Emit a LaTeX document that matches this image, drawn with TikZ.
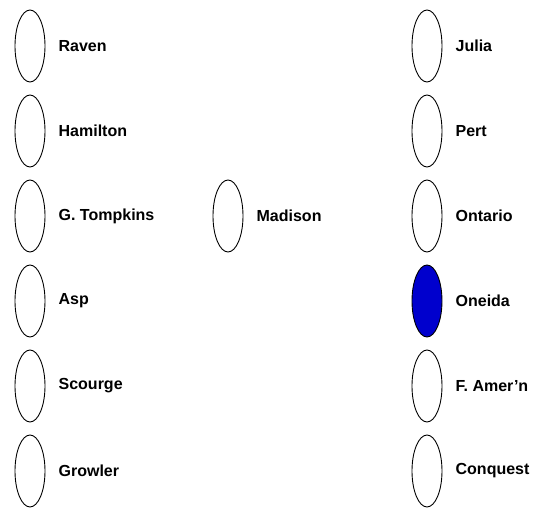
\documentclass[tikz,border=0pt]{standalone}
\usepackage{fontspec}
\setmainfont{Liberation Sans}
\usepackage{xcolor}
\usetikzlibrary{positioning, shapes.geometric}

\definecolor{shipblue}{RGB}{0,0,205}

\begin{document}
\begin{tikzpicture}[
    x=1pt, y=-1pt,
    ship/.style={draw, ellipse, minimum width=30pt, minimum height=72pt,
      inner sep=0pt, line width=0.9pt},
    lbl/.style={font=\fontsize{16}{18}\selectfont\bfseries, inner sep=0pt},
  ]
    \useasboundingbox (0,0) rectangle (542,508);

    % ═══ Left column ═══
    \node[ship] (raven) at (30, 46) {};
    \node[lbl, right=13pt of raven] (ravenl) {Raven};
    \node[ship] (hamilton) at (30, 131) {};
    \node[lbl, right=13pt of hamilton] (hamiltonl) {Hamilton};
    \node[ship] (tompkins) at (30, 216) {};
    \node[lbl, right=13pt of tompkins] (tompkinsl) {G. Tompkins};
    \node[ship] (asp) at (30, 301) {};
    \node[lbl, right=13pt of asp] (aspl) {Asp};
    \node[ship] (scourge) at (30, 386) {};
    \node[lbl, right=13pt of scourge] (scourgel) {Scourge};
    \node[ship] (growler) at (30, 471) {};
    \node[lbl, right=13pt of growler] (growlerl) {Growler};

    % ═══ Middle ═══
    \node[ship] (madison) at (228, 216) {};
    \node[lbl, right=13pt of madison] (madisonl) {Madison};

    % ═══ Right column ═══
    \node[ship] (julia) at (427, 46) {};
    \node[lbl, right=13pt of julia] (julial) {Julia};
    \node[ship] (pert) at (427, 131) {};
    \node[lbl, right=13pt of pert] (pertl) {Pert};
    \node[ship] (ontario) at (427, 216) {};
    \node[lbl, right=13pt of ontario] (ontariol) {Ontario};
    \node[ship, fill=shipblue] (oneida) at (427, 301) {};
    \node[lbl, right=13pt of oneida] (oneidal) {Oneida};
    \node[ship] (amern) at (427, 386) {};
    \node[lbl, right=13pt of amern] (amernl) {F. Amer'n};
    \node[ship] (conquest) at (427, 471) {};
    \node[lbl, right=13pt of conquest] (conquestl) {Conquest};
  \end{tikzpicture}
\end{document}
